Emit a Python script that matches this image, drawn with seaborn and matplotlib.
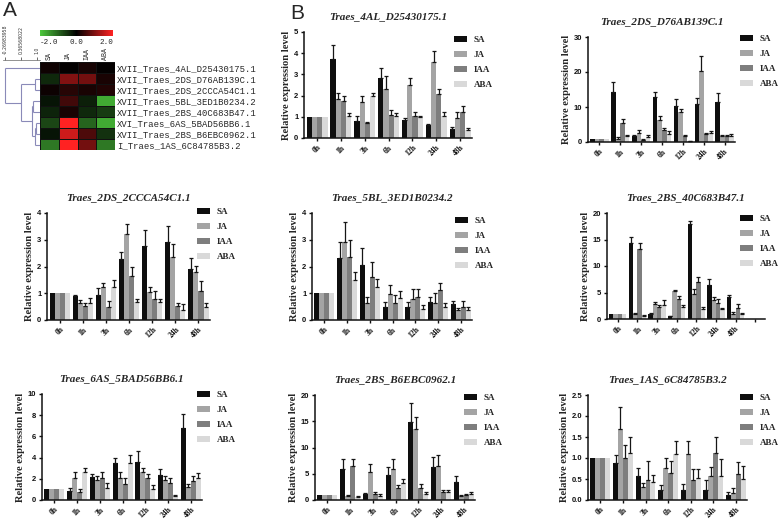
import numpy as np
import pandas as pd
import matplotlib
matplotlib.use("Agg")
import matplotlib.pyplot as plt
import seaborn as sns
from matplotlib.colors import LinearSegmentedColormap
from matplotlib.patches import Patch

# ---------------- data ----------------
times = ["0h", "1h", "3h", "6h", "12h", "24h", "48h"]
treatments = ["SA", "JA", "IAA", "ABA"]
bar_colors = ["#0e0e0e", "#a4a4a4", "#7e7e7e", "#d9d9d9"]

hm_genes = ["XVII_Traes_4AL_D25430175.1", "XVII_Traes_2DS_D76AB139C.1",
            "XVII_Traes_2DS_2CCCA54C1.1", "XVII_Traes_5BL_3ED1B0234.2",
            "XVII_Traes_2BS_40C683B47.1", "XVI_Traes_6AS_5BAD56BB6.1",
            "XVII_Traes_2BS_B6EBC0962.1", "I_Traes_1AS_6C84785B3.2"]
hm_cols = ["SA", "JA", "IAA", "ABA"]
hm_vals = [[0.12, 0.03, 0.18, 0.02],
           [-0.4, 1.0, 0.9, 0.2],
           [0.1, 0.3, 0.2, 0.25],
           [-0.2, 0.5, -0.3, -1.7],
           [-0.35, 0.2, -0.4, -0.6],
           [-0.7, 2.0, -1.0, -1.7],
           [-0.2, 1.6, 0.6, -0.5],
           [-1.2, 2.0, 0.9, -1.2]]
# dendrogram merges: (child a, child b, similarity); leaves 0..7, new nodes 8..
dend_merges = [(1, 2, 0.93), (5, 6, 0.97), (9, 7, 0.92), (3, 4, 0.86),
               (11, 10, 0.80), (8, 12, 0.366), (0, 13, -0.2698)]
dend_scale = [-0.26983958, 0.36568022, 1.0]
dend_scale_labels = ["-0.26983958", "0.36568022", "1.0"]

genes = ["Traes_4AL_D25430175.1", "Traes_2DS_D76AB139C.1", "Traes_2DS_2CCCA54C1.1",
         "Traes_5BL_3ED1B0234.2", "Traes_2BS_40C683B47.1", "Traes_6AS_5BAD56BB6.1",
         "Traes_2BS_B6EBC0962.1", "Traes_1AS_6C84785B3.2"]

g1_mean = [[1, 3.72, 0.82, 2.82, 0.87, 0.62, 0.43],
           [1, 1.85, 1.69, 2.29, 2.48, 3.6, 0.95],
           [1, 1.75, 0.7, 1.07, 1.03, 2.07, 1.21],
           [1, 1.05, 2.0, 1.03, 0.98, 1.03, 0.36]]
g1_err = [[0, 0.65, 0.2, 0.5, 0.05, 0.06, 0.09],
          [0, 0.28, 0.3, 0.65, 0.33, 0.5, 0.26],
          [0, 0.25, 0.05, 0.24, 0.2, 0.25, 0.32],
          [0, 0.15, 0.1, 0.15, 0.08, 0.2, 0.11]]

g2_mean = [[1, 14.3, 1.8, 13.0, 10.2, 11.0, 11.3],
           [1, 1.0, 2.5, 6.3, 8.6, 20.2, 1.8],
           [1, 5.3, 0.6, 3.5, 1.7, 2.2, 1.8],
           [1, 1.6, 1.4, 2.4, 0.3, 2.5, 1.8]]
g2_err = [[0, 2.8, 0.2, 1.4, 2.0, 1.7, 2.7],
          [0, 0.3, 0.8, 1.0, 0.7, 4.5, 0.2],
          [0, 1.2, 0.2, 0.4, 0.2, 0.5, 0.3],
          [0, 0.3, 0.5, 0.7, 0.1, 0.6, 0.4]]

g3_mean = [[1, 0.9, 0.93, 2.28, 2.75, 2.92, 1.92],
           [1, 0.65, 1.22, 3.22, 1.05, 2.35, 1.8],
           [1, 0.52, 0.5, 1.65, 0.78, 0.52, 1.1],
           [1, 0.62, 1.22, 0.68, 0.68, 0.38, 0.5]]
g3_err = [[0, 0.05, 0.25, 0.25, 0.6, 0.58, 0.38],
          [0, 0.1, 0.17, 0.38, 0.2, 0.5, 0.22],
          [0, 0.1, 0.22, 0.33, 0.3, 0.12, 0.35],
          [0, 0.22, 0.28, 0.1, 0.12, 0.2, 0.15]]

g4_mean = [[1, 2.32, 2.05, 0.48, 0.47, 0.69, 0.6],
           [1, 2.92, 0.62, 0.97, 0.78, 0.62, 0.37],
           [1, 2.35, 1.62, 0.63, 0.87, 1.12, 0.47],
           [1, 1.5, 1.25, 0.82, 0.4, 0.5, 0.37]]
g4_err = [[0, 0.6, 0.65, 0.2, 0.2, 0.18, 0.12],
          [0, 0.75, 0.25, 0.35, 0.38, 0.38, 0.09],
          [0, 0.65, 0.55, 0.3, 0.28, 0.28, 0.25],
          [0, 0.3, 0.3, 0.25, 0.15, 0.12, 0.13]]

g5_mean = [[1, 14.4, 1.0, 0.55, 17.9, 6.4, 4.2],
           [1, 0.9, 2.8, 5.2, 4.8, 3.6, 1.0],
           [1, 13.3, 2.3, 3.8, 7.0, 3.0, 2.1],
           [1, 0.6, 2.7, 2.3, 1.8, 1.8, 1.0]]
g5_err = [[0, 1.0, 0.2, 0.1, 0.5, 1.1, 0.4],
          [0, 0.2, 0.5, 0.3, 0.9, 0.6, 0.3],
          [0, 1.0, 0.4, 0.5, 0.9, 0.8, 0.7],
          [0, 0.2, 0.9, 0.4, 0.4, 0.3, 0.2]]

g6_mean = [[1, 0.85, 2.15, 3.45, 3.6, 2.35, 6.8],
           [1, 2.1, 1.85, 2.1, 2.6, 1.9, 1.2],
           [1, 0.8, 2.05, 1.55, 2.05, 1.65, 1.75],
           [1, 2.6, 1.15, 3.45, 1.05, 0.35, 2.05]]
g6_err = [[0, 0.3, 0.35, 0.5, 1.0, 0.55, 1.3],
          [0, 0.55, 0.45, 0.55, 0.4, 0.35, 0.3],
          [0, 0.2, 0.6, 0.5, 0.45, 0.4, 0.5],
          [0, 0.45, 0.5, 0.75, 0.4, 0.15, 0.5]]

g7_mean = [[1, 5.9, 1.1, 4.8, 14.8, 6.2, 3.4],
           [1, 0.7, 5.4, 6.0, 13.6, 6.5, 0.8],
           [1, 6.5, 1.2, 2.2, 2.2, 1.6, 0.95],
           [1, 0.5, 0.8, 3.3, 1.2, 1.5, 1.1]]
g7_err = [[0, 1.9, 0.3, 1.4, 3.7, 1.9, 1.2],
          [0, 0.2, 1.5, 1.9, 2.3, 2.1, 0.15],
          [0, 1.4, 0.3, 0.6, 0.9, 0.3, 0.25],
          [0, 0.2, 0.3, 0.7, 0.4, 0.4, 0.4]]

g8_mean = [[1, 0.89, 0.58, 0.23, 0.24, 0.25, 0.13],
           [1, 1.7, 0.3, 0.76, 1.1, 0.56, 0.17],
           [1, 1.0, 0.47, 0.65, 0.48, 1.11, 0.61],
           [1, 1.12, 0.44, 1.1, 0.53, 0.56, 0.5]]
g8_err = [[0, 0.19, 0.19, 0.13, 0.15, 0.22, 0.07],
          [0, 0.52, 0.1, 0.25, 0.31, 0.22, 0.11],
          [0, 0.3, 0.47, 0.29, 0.25, 0.4, 0.3],
          [0, 0.37, 0.15, 0.31, 0.22, 0.41, 0.3]]

yticks_list = [[0, 1, 2, 3, 4, 5], [0, 10, 20, 30], [0, 1, 2, 3, 4], [0, 1, 2, 3, 4],
               [0, 5, 10, 15, 20], [0, 2, 4, 6, 8, 10], [0, 5, 10, 15, 20],
               [0.0, 0.5, 1.0, 1.5, 2.0, 2.5]]
ytick_labels = [["0", "1", "2", "3", "4", "5"], ["0", "10", "20", "30"],
                ["0", "1", "2", "3", "4"], ["0", "1", "2", "3", "4"],
                ["0", "5", "10", "15", "20"], ["0", "2", "4", "6", "8", "10"],
                ["0", "5", "10", "15", "20"], ["0.0", "0.5", "1.0", "1.5", "2.0", "2.5"]]
all_means = [g1_mean, g2_mean, g3_mean, g4_mean, g5_mean, g6_mean, g7_mean, g8_mean]
all_errs = [g1_err, g2_err, g3_err, g4_err, g5_err, g6_err, g7_err, g8_err]

# ---------------- layout (pixels) ----------------
W, H = 778, 521
ax_px = [(304, 472, 32, 138), (588, 735, 37, 142), (47, 210, 213, 320),
         (312, 472, 213, 320), (607, 765, 213, 319), (42, 202, 394, 500),
         (315, 475, 395, 500), (588, 747, 395, 500)]
leg_px = [(454, 36), (740, 35), (197, 208), (455, 217), (740, 215),
          (197, 391), (464, 394), (740, 394)]
extra_tick = [False, False, False, False, True, False, False, False]


def rect(l, r, t, b):
    return [l / W, 1 - b / H, (r - l) / W, (b - t) / H]


sns.set_style("ticks")
plt.rcParams["font.family"] = ["DejaVu Sans"]

fig = plt.figure(figsize=(W / 100, H / 100), dpi=100)
fig.patch.set_facecolor("white")

serif = "Liberation Serif"
sans = "Liberation Sans"
mono = "Liberation Mono"

# ---------------- panel A: heatmap ----------------
cmap = LinearSegmentedColormap.from_list("gkr", ["#4cc83c", "#000000", "#ff2222"])
hm_df = pd.DataFrame(hm_vals, index=hm_genes, columns=hm_cols)
hm_ax = fig.add_axes(rect(40, 115, 62, 150))
cb_ax = fig.add_axes(rect(40, 113, 30, 36))
sns.heatmap(hm_df, cmap=cmap, vmin=-2, vmax=2, ax=hm_ax, cbar_ax=cb_ax,
            cbar_kws={"orientation": "horizontal", "ticks": [-2, 0, 2]},
            linewidths=0.4, linecolor="#111111", xticklabels=True, yticklabels=True)
hm_ax.yaxis.tick_right()
hm_ax.set_yticks(np.arange(len(hm_genes)) + 0.5)
hm_ax.set_yticklabels(hm_genes, rotation=0, fontfamily=mono, fontsize=6.4)
hm_ax.xaxis.tick_top()
hm_ax.set_xticks(np.arange(len(hm_cols)) + 0.5)
hm_ax.set_xticklabels(hm_cols, rotation=90, fontfamily=mono, fontsize=4.8)
hm_ax.tick_params(length=0, pad=1.5)
hm_ax.set_xlabel("")
hm_ax.set_ylabel("")
cb = hm_ax.collections[0].colorbar
cb.outline.set_visible(False)
cb_ax.tick_params(length=0, pad=2, labelsize=5.5)
cb_ax.set_xticks([-2, 0, 2])
cb_ax.set_xticklabels(["-2.0", "0.0", "2.0"], fontfamily=mono, fontsize=5.5)
tl = cb_ax.get_xticklabels()
tl[0].set_ha("left")
tl[2].set_ha("right")

# dendrogram
den_ax = fig.add_axes(rect(3, 40, 62, 150))
x_lo, x_hi = -0.349, 1.119
den_ax.set_xlim(x_lo, x_hi)
den_ax.set_ylim(8, 0)
den_ax.axis("off")
nodes = {i: (x_hi, i + 0.5) for i in range(8)}
dcol = "#8a8ab8"
nid = 8
for a, b, v in dend_merges:
    xa, ya = nodes[a]
    xb, yb = nodes[b]
    den_ax.plot([v, v], [ya, yb], color=dcol, lw=0.8, solid_capstyle="butt")
    den_ax.plot([v, xa], [ya, ya], color=dcol, lw=0.8, solid_capstyle="butt")
    den_ax.plot([v, xb], [yb, yb], color=dcol, lw=0.8, solid_capstyle="butt")
    nodes[nid] = (v, (ya + yb) / 2)
    nid += 1

sc_ax = fig.add_axes(rect(3, 40, 55, 60))
sc_ax.set_xlim(x_lo, x_hi)
sc_ax.set_yticks([])
for s in ["top", "right", "left"]:
    sc_ax.spines[s].set_visible(False)
sc_ax.spines["bottom"].set_linewidth(0.5)
sc_ax.spines["bottom"].set_color("#666666")
sc_ax.set_xticks(dend_scale)
sc_ax.set_xticklabels(dend_scale_labels)
sc_ax.tick_params(axis="x", bottom=True, top=False, labelbottom=False, labeltop=True,
                  direction="in", length=2, width=0.5, labelsize=3.3,
                  labelrotation=90, pad=1, colors="#333333")
sc_ax.patch.set_alpha(0)

fig.text(3 / W, 1 - 16 / H, "A", fontsize=15, fontfamily=sans, va="baseline")
fig.text(290 / W, 1 - 19 / H, "B", fontsize=15, fontfamily=sans, va="baseline")

# ---------------- panel B: bar charts ----------------
legend_handles = [Patch(facecolor=c, edgecolor="none") for c in bar_colors]

for k in range(8):
    ax = fig.add_axes(rect(*ax_px[k]))
    means, errs = all_means[k], all_errs[k]
    rows = []
    for ti, tr in enumerate(treatments):
        for xi, t in enumerate(times):
            rows.append({"time": t, "treatment": tr, "value": means[ti][xi]})
    df = pd.DataFrame(rows)
    sns.barplot(data=df, x="time", y="value", hue="treatment", order=times,
                hue_order=treatments, palette=bar_colors, width=0.88, saturation=1,
                errorbar=None, legend=False, ax=ax, linewidth=0)
    conts = list(ax.containers)
    for ti, cont in enumerate(conts):
        xs, hs, es = [], [], []
        for bar, e in zip(cont, errs[ti]):
            if e > 0:
                xs.append(bar.get_x() + bar.get_width() / 2)
                hs.append(bar.get_height())
                es.append(e)
        ax.errorbar(xs, hs, yerr=[np.zeros(len(es)), es], fmt="none",
                    ecolor="#161616", elinewidth=0.9, capsize=1.2, capthick=0.9)
    yt = yticks_list[k]
    ax.set_ylim(0, yt[-1])
    ax.set_yticks(yt)
    ax.set_yticklabels(ytick_labels[k], fontfamily=sans, fontweight="bold", fontsize=5.5)
    if extra_tick[k]:
        ax.set_xlim(-0.55, len(times) + 0.5)
        ax.set_xticks(range(len(times) + 1))
        ax.set_xticklabels(times + [""])
    else:
        ax.set_xlim(-0.55, len(times) - 0.5)
        ax.set_xticks(range(len(times)))
        ax.set_xticklabels(times)
    for lab in ax.get_xticklabels():
        lab.set_rotation(45)
        lab.set_ha("right")
        lab.set_rotation_mode("anchor")
        lab.set_fontfamily(serif)
        lab.set_fontweight("bold")
        lab.set_fontsize(5.5)
    ax.set_xlabel("")
    ax.set_ylabel("Relative expression level", fontfamily=serif, fontweight="bold",
                  fontsize=7.6, labelpad=2)
    ax.set_title(genes[k], fontfamily=serif, fontweight="bold", fontstyle="italic",
                 fontsize=8, pad=9)
    for s in ["top", "right"]:
        ax.spines[s].set_visible(False)
    for s in ["left", "bottom"]:
        ax.spines[s].set_linewidth(1.1)
        ax.spines[s].set_color("#111111")
    ax.tick_params(axis="both", length=2.5, width=1.0, pad=1.5, colors="#111111")
    ax.patch.set_alpha(0)
    lx, ly = leg_px[k]
    ax.legend(legend_handles, treatments, loc="upper left",
              bbox_to_anchor=(lx / W, 1 - ly / H), bbox_transform=fig.transFigure,
              frameon=False, prop={"family": serif, "weight": "bold", "size": 6.5},
              handlelength=1.45, handleheight=0.6, labelspacing=0.78,
              handletextpad=0.7, borderpad=0, borderaxespad=0)

fig.savefig("out.png", dpi=100, facecolor="white")
